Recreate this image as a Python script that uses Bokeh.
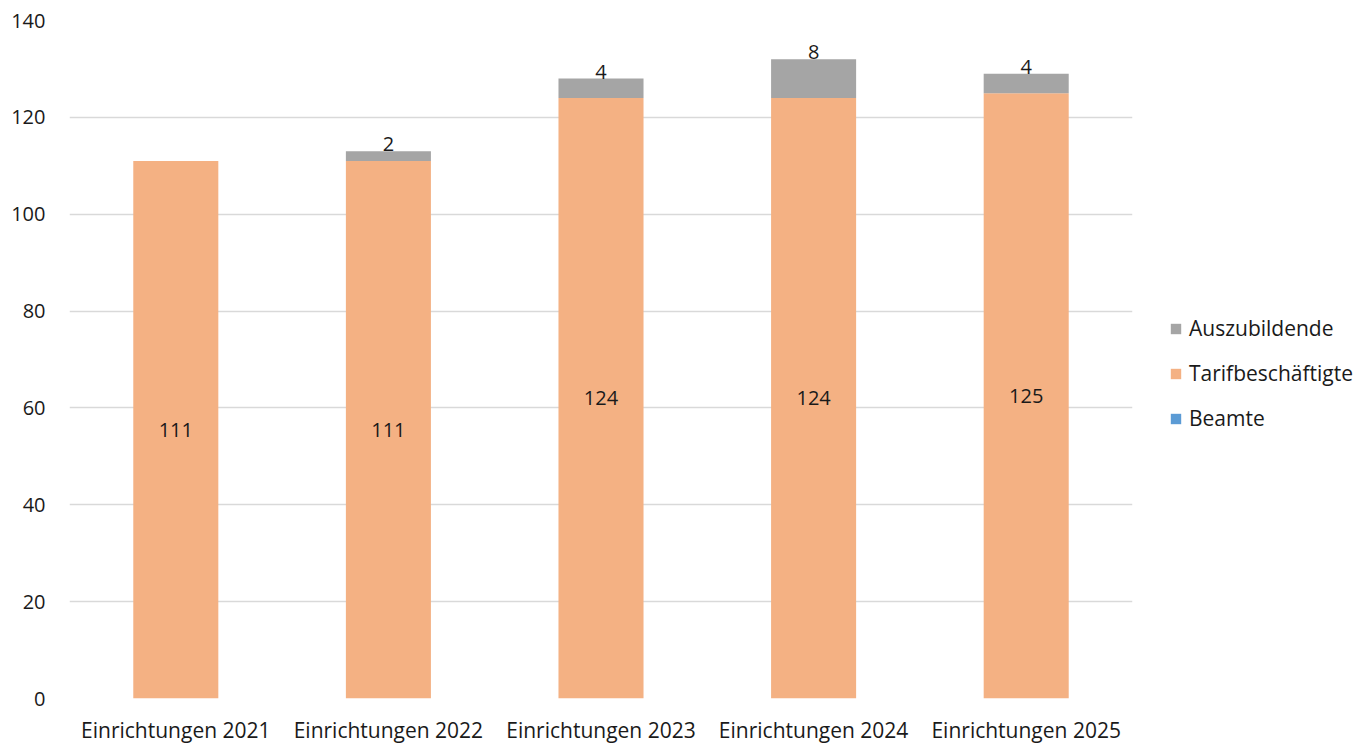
from bokeh.plotting import figure
from bokeh.models import FactorRange, Range1d, FixedTicker, ColumnDataSource, Legend, LegendItem
from bokeh.core.properties import value
from bokeh.embed import file_html
from bokeh.resources import INLINE

categories = ["Einrichtungen 2021", "Einrichtungen 2022", "Einrichtungen 2023",
              "Einrichtungen 2024", "Einrichtungen 2025"]
beamte = [0, 0, 0, 0, 0]
tarif = [111, 111, 124, 124, 125]
azubi = [0, 2, 4, 8, 4]
series_names = ["Beamte", "Tarifbeschäftigte", "Auszubildende"]
colors = ["#5B9BD5", "#F4B183", "#A5A5A5"]
y_ticks = [0, 20, 40, 60, 80, 100, 120, 140]

FONT = "Open Sans"
FS = "20px"
FS2 = "21px"
TXT = "#1a1a1a"

src = ColumnDataSource(dict(cat=categories, Beamte=beamte,
                            Tarif=tarif, Azubi=azubi))

p = figure(x_range=FactorRange(*categories, range_padding=0),
           y_range=Range1d(0, 140), frame_width=1063, frame_height=678,
           output_backend="svg", toolbar_location=None,
           min_border_left=69, min_border_top=20, min_border_bottom=10,
           min_border_right=0)

renderers = p.vbar_stack(["Beamte", "Tarif", "Azubi"], x="cat", width=0.4,
                         color=colors, line_color=None, source=src)

# labels for Tarifbeschäftigte (centered in segment)
mid = [b + t / 2 for b, t in zip(beamte, tarif)]
p.text(x=categories, y=mid, text=[str(v) for v in tarif],
       text_align="center", text_baseline="middle",
       text_font=value(FONT), text_font_size=FS, text_color=TXT)

# labels for Auszubildende (non-zero only)
lx, ly, lt = [], [], []
for c, b, t, a in zip(categories, beamte, tarif, azubi):
    if a:
        lx.append(c)
        ly.append(b + t + a)
        lt.append(str(a))
p.text(x=lx, y=ly, text=lt, text_align="center", text_baseline="bottom",
       y_offset=0, text_font=value(FONT), text_font_size=FS, text_color=TXT)

p.yaxis.ticker = FixedTicker(ticks=y_ticks)
for ax in (p.xaxis, p.yaxis):
    ax.axis_line_color = None
    ax.major_tick_line_color = None
    ax.minor_tick_line_color = None
    ax.major_label_text_font = FONT
    ax.major_label_text_color = TXT
p.yaxis.major_label_text_font_size = FS
p.xaxis.major_label_text_font_size = FS2
p.yaxis.major_label_standoff = 18
p.xaxis.major_label_standoff = 11

p.xgrid.grid_line_color = None
p.ygrid.grid_line_color = "#D9D9D9"
p.ygrid.grid_line_width = 1.5
p.outline_line_color = None

legend = Legend(items=[LegendItem(label=series_names[i], renderers=[renderers[i]])
                       for i in (2, 1, 0)],
                location=(37, 266))
legend.label_text_font = FONT
legend.label_text_font_size = FS2
legend.label_text_color = TXT
legend.glyph_width = 13
legend.glyph_height = 13
legend.label_standoff = 7
legend.label_height = 20
legend.spacing = 17
legend.padding = 0
legend.margin = 37
legend.border_line_color = None
legend.background_fill_alpha = 0
p.add_layout(legend, "right")

open("out.html", "w").write(file_html(p, INLINE))
